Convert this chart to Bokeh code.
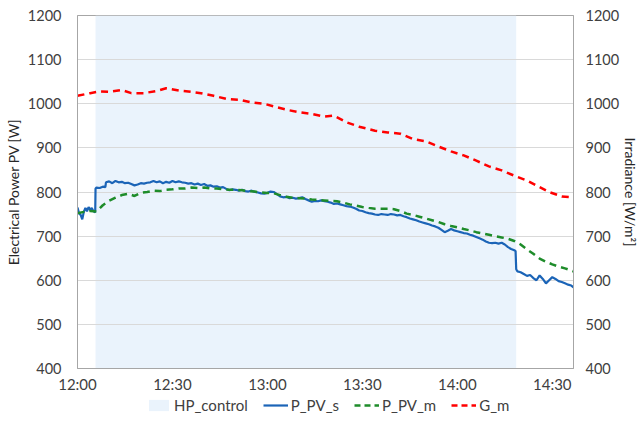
from bokeh.plotting import figure
from bokeh.models import Range1d, LinearAxis, FixedTicker, Legend, LegendItem
from bokeh.layouts import column
from bokeh.embed import file_html
from bokeh.resources import INLINE

# minutes after 12:00
x_tick_values = [0, 30, 60, 90, 120, 150]
x_tick_labels = ["12:00", "12:30", "13:00", "13:30", "14:00", "14:30"]
y_ticks = [400, 500, 600, 700, 800, 900, 1000, 1100, 1200]

hp_control_start = 5.7
hp_control_end = 138.6

ppv_s_t = [0, 0.5, 1, 1.5, 2, 2.5, 3, 3.5, 4, 4.5, 5, 5.6, 5.7, 6, 7, 8, 8.8,
           9, 10, 11, 12, 13, 14, 15, 16, 17, 18, 19, 20, 21, 22, 23, 24, 25, 26, 27, 28, 29,
           30, 31, 32, 33, 34, 35, 36, 37, 38, 39, 40, 41, 42, 43, 44, 45, 46, 47, 48, 49,
           50, 51, 52, 53, 54, 55, 56, 57, 58, 59, 60, 61, 62, 63, 64, 65, 66, 67, 68, 69,
           70, 71, 72, 73, 74, 75, 76, 77, 78, 79, 80, 81, 82, 83, 84, 85, 86, 87, 88, 89,
           90, 91, 92, 93, 94, 95, 96, 97, 98, 99, 100, 101, 102, 103, 104, 105, 106, 107, 108, 109,
           110, 111, 112, 113, 114, 115, 116, 117, 118, 119, 120, 121, 122, 123, 124, 125, 126, 127, 128, 129,
           130, 131, 132, 133, 134, 135, 136, 137, 138, 138.4, 138.6, 139, 140, 141, 142, 143, 144, 145, 146, 147,
           148, 149, 150, 151, 152, 153, 154, 155, 156, 156.7]
ppv_s = [765, 752, 748, 738, 755, 764, 756, 766, 759, 764, 757, 754, 808, 810, 809, 812, 811,
         822, 824, 820, 825, 822, 823, 820, 821, 818, 815, 817, 820, 819, 821, 822, 825, 822, 824, 820, 823, 821,
         825, 822, 824, 822, 821, 819, 820, 817, 819, 816, 818, 814, 815, 812, 813, 810, 811, 807, 804, 806,
         805, 803, 805, 802, 801, 803, 800, 799, 797, 796, 798, 801, 800, 795, 790, 788, 789, 786, 787, 785,
         786, 788, 784, 781, 778, 780, 779, 781, 779, 778, 776, 773, 774, 772, 770, 768, 767, 765, 762, 758,
         757, 754, 752, 751, 749, 748, 750, 749, 748, 750, 749, 747, 748, 745, 743, 740, 738, 736, 733, 731,
         729, 727, 724, 722, 719, 714, 709, 712, 716, 713, 711, 709, 707, 706, 703, 701, 698, 695, 692, 688,
         685, 684, 685, 683, 685, 681, 675, 671, 668, 666, 625, 620, 618, 614, 610, 612, 605, 600, 611, 603,
         593, 600, 607, 603, 598, 596, 593, 590, 588, 584]

ppv_m_t = [0, 2, 4, 6, 8, 10, 12, 14, 16, 18, 20, 22, 24, 26, 28, 30, 32, 34, 36, 38,
           40, 42, 44, 46, 48, 50, 52, 54, 56, 58, 60, 62, 64, 66, 68, 70, 72, 74, 76, 78,
           80, 82, 84, 86, 88, 90, 92, 94, 96, 98, 100, 102, 104, 106, 108, 110, 112, 114, 116, 118,
           120, 122, 124, 126, 128, 130, 132, 134, 136, 138, 140, 142, 144, 146, 148, 150, 152, 154, 156, 156.7]
ppv_m = [752, 755, 757, 756, 770, 780, 787, 793, 796, 791, 798, 800, 803, 802, 805, 806, 808, 808, 810, 809,
         810, 808, 808, 806, 805, 805, 804, 802, 801, 799, 798, 797, 793, 789, 787, 786, 785, 783, 782, 781,
         780, 779, 776, 772, 769, 766, 764, 762, 762, 762, 761, 757, 751, 748, 744, 740, 736, 732, 727, 723,
         720, 716, 713, 709, 706, 703, 700, 697, 694, 689, 681, 670, 660, 649, 642, 636, 631, 627, 622, 620]

g_m_t = [0, 4, 7, 10, 14, 17, 21, 25, 28, 32, 35, 39, 43, 47, 51, 55, 59, 63, 67, 70,
         74, 78, 81, 85, 89, 94, 98, 102, 106, 110, 114, 118, 122, 126, 130, 134, 138, 142, 146, 149,
         153, 156.7]
g_m = [1018, 1024, 1028, 1027, 1031, 1024, 1024, 1029, 1035, 1030, 1028, 1024, 1018, 1011, 1009, 1003, 1000, 992, 985, 981,
       977, 971, 973, 958, 948, 939, 935, 932, 920, 915, 903, 892, 883, 871, 858, 849, 837, 826, 811, 800,
       790, 788]

FONT = "Lato"
TXT = "#404040"
BORDER = "#A6A6A6"
C_HP = "#EAF3FC"
C_S = "#1B64B7"
C_M = "#1E8C2A"
C_G = "#FF0000"
DASH = "7 5"

p = figure(width=642, frame_height=353, output_backend="svg", toolbar_location=None,
           x_range=Range1d(0, 156.7), y_range=Range1d(400, 1200),
           min_border_left=77, min_border_right=69, min_border_top=15, min_border_bottom=23)
p.extra_y_ranges = {"irr": Range1d(400, 1200)}

p.outline_line_color = BORDER
p.outline_line_width = 1
p.background_fill_color = "white"
p.border_fill_color = "white"

hp = p.quad(left=[hp_control_start], right=[hp_control_end], bottom=[400], top=[1200],
            fill_color=C_HP, line_color=None, level="image")
r_s = p.line(ppv_s_t, ppv_s, line_color=C_S, line_width=2.2)
r_m = p.line(ppv_m_t, ppv_m, line_color=C_M, line_width=2.5, line_dash=DASH)
r_g = p.line(g_m_t, g_m, line_color=C_G, line_width=2.5, line_dash=DASH, y_range_name="irr")

# grids
p.xgrid.visible = False
p.ygrid.ticker = FixedTicker(ticks=y_ticks)
p.ygrid.grid_line_color = "#D9D9D9"
p.ygrid.grid_line_width = 1


def style_axis(ax, size, standoff):
    ax.axis_line_color = BORDER
    ax.major_tick_line_color = None
    ax.minor_tick_line_color = None
    ax.major_tick_out = 0
    ax.major_tick_in = 0
    ax.minor_tick_out = 0
    ax.minor_tick_in = 0
    ax.major_label_text_font = FONT
    ax.major_label_text_font_size = size
    ax.major_label_text_color = TXT
    ax.major_label_standoff = standoff
    ax.axis_label_text_font = FONT
    ax.axis_label_text_font_size = "14px"
    ax.axis_label_text_font_style = "normal"
    ax.axis_label_text_color = "#262626"


# x axis
xa = p.xaxis[0]
xa.ticker = FixedTicker(ticks=x_tick_values)
xa.major_label_overrides = {v: l for v, l in zip(x_tick_values, x_tick_labels)}
style_axis(xa, "15px", 6)

# left axis
ya = p.yaxis[0]
ya.ticker = FixedTicker(ticks=y_ticks)
style_axis(ya, "14.5px", 16)
ya.axis_label = "Electrical Power PV [W]"
ya.axis_label_standoff = 3

# right axis
ra = LinearAxis(y_range_name="irr", ticker=FixedTicker(ticks=y_ticks))
style_axis(ra, "14.5px", 12)
ra.axis_label = "Irradiance [W/m²]"
ra.axis_label_standoff = 0
p.add_layout(ra, "right")

# legend strip below the chart (its sample glyphs lie outside the strip's view)
lf = figure(width=642, height=40, output_backend="svg", toolbar_location=None,
            x_range=Range1d(-1001, -1000), y_range=Range1d(-1001, -1000),
            x_axis_location=None, y_axis_location=None,
            min_border=0, min_border_left=0, min_border_right=0,
            min_border_top=0, min_border_bottom=0)
lf.grid.visible = False
lf.outline_line_color = None
lf.background_fill_color = "white"
lf.border_fill_color = "white"
l_hp = lf.quad(left=[hp_control_start], right=[hp_control_end], bottom=[400], top=[1200],
               fill_color=C_HP, line_color=None)
l_s = lf.line(ppv_s_t, ppv_s, line_color=C_S, line_width=2.2)
l_m = lf.line(ppv_m_t, ppv_m, line_color=C_M, line_width=2.5, line_dash="6 4")
l_g = lf.line(g_m_t, g_m, line_color=C_G, line_width=2.5, line_dash="6 4")

legend = Legend(items=[
    LegendItem(label="HP_control", renderers=[l_hp]),
    LegendItem(label="P_PV_s", renderers=[l_s]),
    LegendItem(label="P_PV_m", renderers=[l_m]),
    LegendItem(label="G_m", renderers=[l_g]),
], orientation="horizontal", location=(69, 21))
legend.label_text_font = FONT
legend.label_text_font_size = "15px"
legend.label_text_color = TXT
legend.border_line_color = None
legend.background_fill_alpha = 0
legend.glyph_width = 25
legend.glyph_height = 14
legend.spacing = 15
legend.label_standoff = 3
legend.padding = 3
legend.margin = 0
lf.add_layout(legend, "center")

layout = column(p, lf, spacing=0)
open("out.html", "w").write(file_html(layout, INLINE))
